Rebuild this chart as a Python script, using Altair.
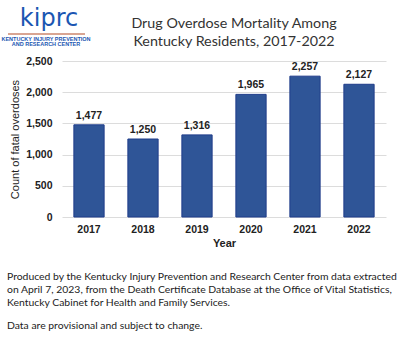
import altair as alt
import pandas as pd

years = ["2017", "2018", "2019", "2020", "2021", "2022"]
deaths = [1477, 1250, 1316, 1965, 2257, 2127]
y_ticks = [0, 500, 1000, 1500, 2000, 2500]
title_lines = ["Drug Overdose Mortality Among", "Kentucky Residents, 2017-2022"]
footer_lines = [
    "Produced by the Kentucky Injury Prevention and Research Center from data extracted",
    "on April 7, 2023, from the Death Certificate Database at the Office of Vital Statistics,",
    "Kentucky Cabinet for Health and Family Services.",
    "Data are provisional and subject to change.",
]
logo_main = "kiprc"
logo_sub = ["KENTUCKY INJURY PREVENTION", "AND RESEARCH CENTER"]

df = pd.DataFrame({"Year": years, "Deaths": deaths})
df["Label"] = [f"{v:,}" for v in deaths]

W, H = 324, 156
AX = "Liberation Sans"
TXT = "Lato"

xenc = alt.X("Year:N", title="Year", sort=years,
             scale=alt.Scale(paddingInner=0.44, paddingOuter=0.22),
             axis=alt.Axis(labelAngle=0, labelFont=AX, labelFontSize=10.5, labelFontWeight="bold",
                           labelColor="#222", labelPadding=7, ticks=False, domain=False,
                           titleFont=AX, titleFontSize=11, titleFontWeight="bold", titleColor="#222",
                           titlePadding=3))
yenc = alt.Y("Deaths:Q", title="Count of fatal overdoses",
             scale=alt.Scale(domain=[0, 2500], nice=False),
             axis=alt.Axis(values=y_ticks, format=",d", labelFont=AX, labelFontSize=10.5,
                           labelFontWeight="bold", labelColor="#222", labelPadding=10,
                           labelOverlap=False,
                           ticks=False, domain=False, gridColor="#DCDCDC",
                           titleFont=AX, titleFontSize=11, titleFontWeight="normal",
                           titleColor="#222", titlePadding=5))

base = alt.Chart(df)

bars = base.mark_bar(color="#2F5597", stroke="#1F3C8A", strokeWidth=1).encode(x=xenc, y=yenc)

labels = base.mark_text(font=AX, fontSize=10.5, fontWeight="bold", color="#222",
                        baseline="bottom", dy=-4).encode(x=xenc, y=yenc, text="Label:N")

one = pd.DataFrame({"k": [0]})
ann = alt.Chart(one)

layers = [bars, labels]

# title
for i, t in enumerate(title_lines):
    layers.append(ann.mark_text(text=t, font=TXT, fontSize=14.3, color="#333",
                                align="center", baseline="middle").encode(
        x=alt.value(172), y=alt.value(-37 + 18 * i)))

# footer
fy = [215.5, 228.5, 241.5, 265]
for t, yy in zip(footer_lines, fy):
    layers.append(ann.mark_text(text=t, font=TXT, fontSize=10.4, color="#222",
                                align="left", baseline="middle").encode(
        x=alt.value(-55), y=alt.value(yy)))

# logo
layers.append(ann.mark_text(text=logo_main, font="DejaVu Sans", fontSize=24, color="#1B56B2",
                            align="center", baseline="alphabetic").encode(
    x=alt.value(49 - 62), y=alt.value(26 - 61)))
layers.append(ann.mark_rule(color="#C0694A", strokeWidth=1.5, opacity=0.8).encode(
    x=alt.value(8 - 62), x2=alt.value(85 - 62), y=alt.value(34 - 61)))
for i, t in enumerate(logo_sub):
    layers.append(ann.mark_text(text=t, font=AX, fontSize=5.5, fontWeight="bold", color="#1B56B2",
                                align="center", baseline="middle").encode(
        x=alt.value(46 - 62), y=alt.value(39 - 61 + 5 * i)))

chart = alt.layer(*layers).properties(
    width=W, height=H,
    autosize=alt.AutoSizeParams(type="none"),
    padding={"left": 62, "top": 61, "right": 14, "bottom": 123},
    background="white",
).configure_view(stroke=None)

chart.save("out.html", embed_options={"renderer": "svg", "actions": False})
